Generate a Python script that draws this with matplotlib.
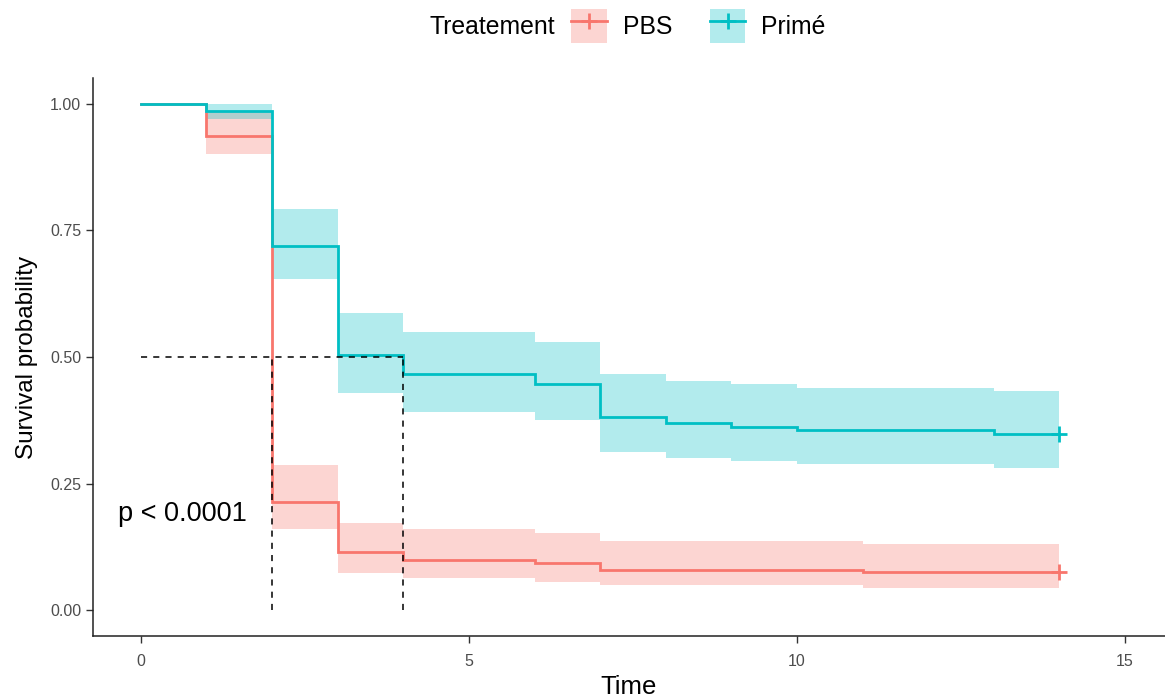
import numpy as np
import matplotlib
matplotlib.use("Agg")
import matplotlib.pyplot as plt
from matplotlib.patches import Patch
from matplotlib.lines import Line2D
from matplotlib.legend_handler import HandlerTuple

plt.rcParams['font.family'] = ['Liberation Sans', 'DejaVu Sans']

# Kaplan-Meier estimates
groups = ['PBS', 'Primé']
colors = ['#F8766D', '#00BFC4']

pbs_time = [0, 1, 2, 3, 4, 6, 7, 11, 14]
pbs_surv = [1.0, 0.937, 0.214, 0.115, 0.100, 0.094, 0.080, 0.075, 0.075]
pbs_low = [1.0, 0.900, 0.160, 0.073, 0.063, 0.056, 0.049, 0.043, 0.043]
pbs_high = [1.0, 0.985, 0.287, 0.173, 0.160, 0.153, 0.136, 0.130, 0.130]

prime_time = [0, 1, 2, 3, 4, 6, 7, 8, 9, 10, 13, 14]
prime_surv = [1.0, 0.986, 0.719, 0.503, 0.466, 0.447, 0.382, 0.369, 0.362, 0.355, 0.348, 0.348]
prime_low = [1.0, 0.970, 0.654, 0.429, 0.392, 0.375, 0.312, 0.301, 0.294, 0.288, 0.281, 0.281]
prime_high = [1.0, 1.0, 0.792, 0.586, 0.550, 0.529, 0.466, 0.452, 0.446, 0.439, 0.432, 0.432]

# medians (0.5 crossing)
median_times = [2, 4]
p_text = 'p < 0.0001'

series = [
    (pbs_time, pbs_surv, pbs_low, pbs_high),
    (prime_time, prime_surv, prime_low, prime_high),
]

fig = plt.figure(figsize=(11.65, 6.99), dpi=100)
ax = fig.add_axes([0.0798, 0.0901, 0.9202, 0.7983])

# ribbons first
for (t, s, lo, hi), c in zip(series, colors):
    ax.fill_between(t, lo, hi, step='post', color=c, alpha=0.3, lw=0)

# curves
for (t, s, lo, hi), c in zip(series, colors):
    ax.step(t, s, where='post', color=c, lw=2, solid_joinstyle='miter')
    # censor mark at the end
    ax.plot(t[-1], s[-1], marker='+', color=c, ms=11, mew=2)

# median lines
ax.plot([0, max(median_times)], [0.5, 0.5], ls=(0, (4, 4)), color='black', lw=1.1)
for m in median_times:
    ax.plot([m, m], [0, 0.5], ls=(0, (4, 4)), color='black', lw=1.1)

ax.text(-0.35, 0.19, p_text, fontsize=19.5, ha='left', va='center', color='black')

ax.set_xlim(-0.73, 15.61)
ax.set_ylim(-0.051, 1.051)
ax.set_xticks([0, 5, 10, 15])
ax.set_yticks([0, 0.25, 0.5, 0.75, 1.0])
ax.set_yticklabels(['0.00', '0.25', '0.50', '0.75', '1.00'])
ax.tick_params(colors='#333333', labelcolor='#4D4D4D', labelsize=11.5, length=5, width=1)
ax.tick_params(axis='x', pad=8)
for side in ['top', 'right']:
    ax.spines[side].set_visible(False)
for side in ['left', 'bottom']:
    ax.spines[side].set_linewidth(1.1)
    ax.spines[side].set_color('#222222')

ax.set_xlabel('Time', fontsize=18.5, labelpad=4)
ax.set_ylabel('Survival probability', fontsize=17.5, labelpad=9)

# legend at top
handles = []
for c in colors:
    handles.append((Patch(facecolor=c, alpha=0.3, lw=0),
                    Line2D([], [], color=c, lw=2, marker='+', ms=12, mew=2)))
fig.text(0.369, 0.961, 'Treatement', fontsize=17.8, ha='left', va='center')
fig.legend(handles, groups, handler_map={tuple: HandlerTuple(ndivide=1, pad=0)},
           loc='center left', bbox_to_anchor=(0.482, 0.963), ncol=2, frameon=False,
           fontsize=17.8, handlelength=1.42, handleheight=1.75, columnspacing=1.55,
           handletextpad=0.65, borderaxespad=0)

fig.savefig('out.png', dpi=100)
